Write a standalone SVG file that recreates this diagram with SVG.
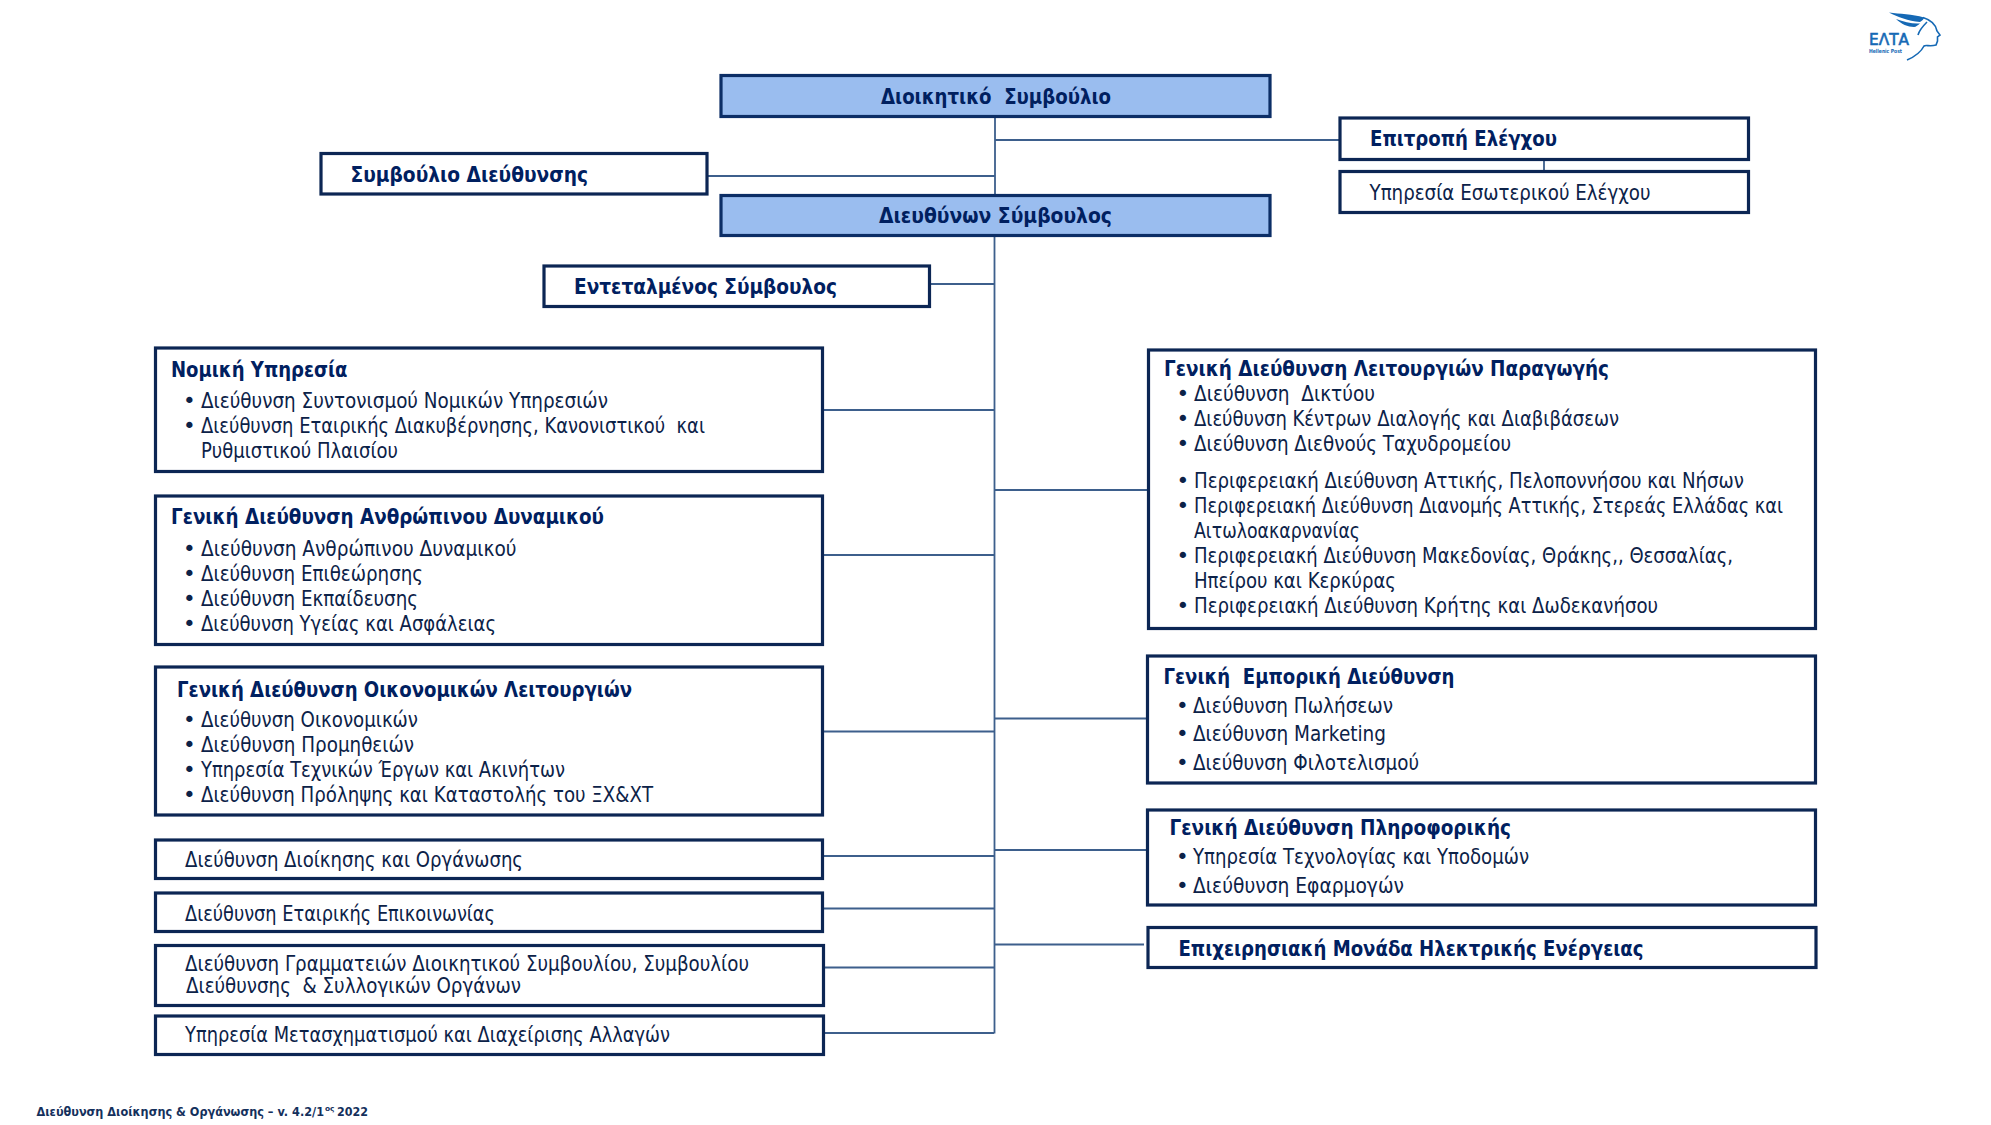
<svg xmlns="http://www.w3.org/2000/svg" width="1991" height="1125" viewBox="0 0 1991 1125">
<style>
text{font-family:"DejaVu Sans","Noto Sans",sans-serif;white-space:pre}
.b{fill:#fff;stroke:#0c2654;stroke-width:3.2}
.h{fill:#9abdef;stroke:#0c2e66;stroke-width:3.2}
.t{font-size:21.5px;font-weight:700;fill:#002060}
.i{font-size:21.5px;fill:#0c2248}
.c{fill:none;stroke:#3d5f8c;stroke-width:1.8}
.l{fill:#1569b5}
.f{font-size:10.5px;font-weight:700;fill:#14305c}
</style>
<rect width="1991" height="1125" fill="#fff"/>
<g id="connectors" class="c">
<path d="M995 117V195M995 140H1340M995 176H707M1544 160V171M994.500 236V1033.500M929 284H994.500"/>
<path d="M823 410H994M823 555H994M823 731.500H994M823 856H994M823 908.500H994M824 967.500H994M824 1033H994"/>
<path d="M994 490H1148M994 718.500H1147M994 850H1147M994 944.500H1144"/>
</g>
<g id="board"><rect class="h" x="721" y="75.500" width="549" height="41"/><text class="t" x="881" y="104" textLength="230" lengthAdjust="spacingAndGlyphs">Διοικητικό  Συμβούλιο</text></g>
<g id="ceo"><rect class="h" x="721" y="195.500" width="549" height="40"/><text class="t" x="879" y="223" textLength="233" lengthAdjust="spacingAndGlyphs">Διευθύνων Σύμβουλος</text></g>
<g id="management-board"><rect class="b" x="321" y="153.500" width="386" height="40.500"/><text class="t" x="350.500" y="182" textLength="237.500" lengthAdjust="spacingAndGlyphs">Συμβούλιο Διεύθυνσης</text></g>
<g id="deputy"><rect class="b" x="544" y="266" width="385.500" height="40.500"/><text class="t" x="574" y="294" textLength="263" lengthAdjust="spacingAndGlyphs">Εντεταλμένος Σύμβουλος</text></g>
<g id="audit-committee"><rect class="b" x="1340" y="118" width="408.500" height="41.500"/><text class="t" x="1370" y="146" textLength="187" lengthAdjust="spacingAndGlyphs">Επιτροπή Ελέγχου</text></g>
<g id="internal-audit"><rect class="b" x="1340" y="171.500" width="408.500" height="41"/><text class="i" x="1369.500" y="200" textLength="281" lengthAdjust="spacingAndGlyphs">Υπηρεσία Εσωτερικού Ελέγχου</text></g>

<g id="legal"><rect class="b" x="155.500" y="348" width="667" height="123.500"/>
<text class="t" x="171" y="377" textLength="176.500" lengthAdjust="spacingAndGlyphs">Νομική Υπηρεσία</text>
<text class="i" x="183" y="408">•</text><text class="i" x="201" y="408" textLength="407" lengthAdjust="spacingAndGlyphs">Διεύθυνση Συντονισμού Νομικών Υπηρεσιών</text>
<text class="i" x="183" y="433">•</text><text class="i" x="201" y="433" textLength="504" lengthAdjust="spacingAndGlyphs">Διεύθυνση Εταιρικής Διακυβέρνησης, Κανονιστικού  και</text>
<text class="i" x="201" y="458" textLength="197" lengthAdjust="spacingAndGlyphs">Ρυθμιστικού Πλαισίου</text></g>

<g id="hr"><rect class="b" x="155.500" y="496" width="667" height="148.500"/>
<text class="t" x="171" y="524" textLength="433" lengthAdjust="spacingAndGlyphs">Γενική Διεύθυνση Ανθρώπινου Δυναμικού</text>
<text class="i" x="183" y="556">•</text><text class="i" x="201" y="556" textLength="315.500" lengthAdjust="spacingAndGlyphs">Διεύθυνση Ανθρώπινου Δυναμικού</text>
<text class="i" x="183" y="581">•</text><text class="i" x="201" y="581" textLength="222" lengthAdjust="spacingAndGlyphs">Διεύθυνση Επιθεώρησης</text>
<text class="i" x="183" y="606">•</text><text class="i" x="201" y="606" textLength="217" lengthAdjust="spacingAndGlyphs">Διεύθυνση Εκπαίδευσης</text>
<text class="i" x="183" y="631">•</text><text class="i" x="201" y="631" textLength="295" lengthAdjust="spacingAndGlyphs">Διεύθυνση Υγείας και Ασφάλειας</text></g>

<g id="finance"><rect class="b" x="155.500" y="667" width="667" height="148"/>
<text class="t" x="177" y="696.500" textLength="455" lengthAdjust="spacingAndGlyphs">Γενική Διεύθυνση Οικονομικών Λειτουργιών</text>
<text class="i" x="183" y="727">•</text><text class="i" x="201" y="727" textLength="217" lengthAdjust="spacingAndGlyphs">Διεύθυνση Οικονομικών</text>
<text class="i" x="183" y="752">•</text><text class="i" x="201" y="752" textLength="213" lengthAdjust="spacingAndGlyphs">Διεύθυνση Προμηθειών</text>
<text class="i" x="183" y="777">•</text><text class="i" x="201" y="777" textLength="364" lengthAdjust="spacingAndGlyphs">Υπηρεσία Τεχνικών Έργων και Ακινήτων</text>
<text class="i" x="183" y="802">•</text><text class="i" x="201" y="802" textLength="452" lengthAdjust="spacingAndGlyphs">Διεύθυνση Πρόληψης και Καταστολής του ΞΧ&amp;ΧΤ</text></g>

<g id="administration"><rect class="b" x="155.500" y="840" width="667" height="38.500"/><text class="i" x="185" y="867" textLength="338" lengthAdjust="spacingAndGlyphs">Διεύθυνση Διοίκησης και Οργάνωσης</text></g>
<g id="communication"><rect class="b" x="155.500" y="893" width="667" height="38.500"/><text class="i" x="185" y="920.500" textLength="310" lengthAdjust="spacingAndGlyphs">Διεύθυνση Εταιρικής Επικοινωνίας</text></g>
<g id="secretariat"><rect class="b" x="155.500" y="945.500" width="668" height="60"/><text class="i" x="185" y="971" textLength="564" lengthAdjust="spacingAndGlyphs">Διεύθυνση Γραμματειών Διοικητικού Συμβουλίου, Συμβουλίου</text><text class="i" x="186" y="993" textLength="335" lengthAdjust="spacingAndGlyphs">Διεύθυνσης  &amp; Συλλογικών Οργάνων</text></g>
<g id="transformation"><rect class="b" x="155.500" y="1016" width="668" height="38.500"/><text class="i" x="185" y="1042" textLength="485" lengthAdjust="spacingAndGlyphs">Υπηρεσία Μετασχηματισμού και Διαχείρισης Αλλαγών</text></g>

<g id="production"><rect class="b" x="1148.500" y="350" width="667" height="278.500"/>
<text class="t" x="1164" y="376" textLength="445" lengthAdjust="spacingAndGlyphs">Γενική Διεύθυνση Λειτουργιών Παραγωγής</text>
<text class="i" x="1176.500" y="401">•</text><text class="i" x="1194" y="401" textLength="181" lengthAdjust="spacingAndGlyphs">Διεύθυνση  Δικτύου</text>
<text class="i" x="1176.500" y="426">•</text><text class="i" x="1194" y="426" textLength="425" lengthAdjust="spacingAndGlyphs">Διεύθυνση Κέντρων Διαλογής και Διαβιβάσεων</text>
<text class="i" x="1176.500" y="451">•</text><text class="i" x="1194" y="451" textLength="317" lengthAdjust="spacingAndGlyphs">Διεύθυνση Διεθνούς Ταχυδρομείου</text>
<text class="i" x="1176.500" y="488">•</text><text class="i" x="1194" y="488" textLength="550" lengthAdjust="spacingAndGlyphs">Περιφερειακή Διεύθυνση Αττικής, Πελοποννήσου και Νήσων</text>
<text class="i" x="1176.500" y="513">•</text><text class="i" x="1194" y="513" textLength="589" lengthAdjust="spacingAndGlyphs">Περιφερειακή Διεύθυνση Διανομής Αττικής, Στερεάς Ελλάδας και</text>
<text class="i" x="1194" y="538" textLength="166" lengthAdjust="spacingAndGlyphs">Αιτωλοακαρνανίας</text>
<text class="i" x="1176.500" y="563">•</text><text class="i" x="1194" y="563" textLength="539" lengthAdjust="spacingAndGlyphs">Περιφερειακή Διεύθυνση Μακεδονίας, Θράκης,, Θεσσαλίας,</text>
<text class="i" x="1194" y="588" textLength="202" lengthAdjust="spacingAndGlyphs">Ηπείρου και Κερκύρας</text>
<text class="i" x="1176.500" y="613">•</text><text class="i" x="1194" y="613" textLength="464" lengthAdjust="spacingAndGlyphs">Περιφερειακή Διεύθυνση Κρήτης και Δωδεκανήσου</text></g>

<g id="commercial"><rect class="b" x="1147.500" y="656" width="668" height="127"/>
<text class="t" x="1163.500" y="684" textLength="291" lengthAdjust="spacingAndGlyphs">Γενική  Εμπορική Διεύθυνση</text>
<text class="i" x="1176" y="713">•</text><text class="i" x="1193" y="713" textLength="200" lengthAdjust="spacingAndGlyphs">Διεύθυνση Πωλήσεων</text>
<text class="i" x="1176" y="741">•</text><text class="i" x="1193" y="741" textLength="193" lengthAdjust="spacingAndGlyphs">Διεύθυνση Marketing</text>
<text class="i" x="1176" y="770">•</text><text class="i" x="1193" y="770" textLength="226" lengthAdjust="spacingAndGlyphs">Διεύθυνση Φιλοτελισμού</text></g>

<g id="it"><rect class="b" x="1147.500" y="810" width="668" height="95"/>
<text class="t" x="1169.500" y="835" textLength="341.500" lengthAdjust="spacingAndGlyphs">Γενική Διεύθυνση Πληροφορικής</text>
<text class="i" x="1176" y="864">•</text><text class="i" x="1193" y="864" textLength="336" lengthAdjust="spacingAndGlyphs">Υπηρεσία Τεχνολογίας και Υποδομών</text>
<text class="i" x="1176" y="893">•</text><text class="i" x="1193" y="893" textLength="211" lengthAdjust="spacingAndGlyphs">Διεύθυνση Εφαρμογών</text></g>

<g id="energy"><rect class="b" x="1148" y="927.500" width="668" height="40"/><text class="t" x="1178.500" y="956" textLength="465" lengthAdjust="spacingAndGlyphs">Επιχειρησιακή Μονάδα Ηλεκτρικής Ενέργειας</text></g>

<g id="footer">
<text class="f" transform="translate(36.500 1116) scale(1 1.250)" textLength="287.500" lengthAdjust="spacingAndGlyphs">Διεύθυνση Διοίκησης &amp; Οργάνωσης – v. 4.2/1</text>
<text x="325" y="1111" font-size="7" font-weight="700" fill="#14305c" textLength="9.500" lengthAdjust="spacingAndGlyphs">ος</text>
<text class="f" transform="translate(337 1116) scale(1 1.250)" textLength="31" lengthAdjust="spacingAndGlyphs">2022</text>
</g>

<g id="logo">
<path class="l" d="M1889 12.500C1900 14 1912 14 1924 17.500C1924 19 1922 21 1920 22C1908 21 1898 17 1889 12.500Z"/>
<path class="l" d="M1896 19C1904 22 1912 24 1920 23.500C1918 25 1916 27 1914 27C1908 27 1901 24 1896 19Z"/>
<path fill="none" stroke="#1569b5" stroke-width="1.600" d="M1923 17.500C1931 20 1936 25 1937 31L1940 35L1937.500 37L1937.500 41L1936 45C1930 47 1926 44.500 1924 46C1921 52 1914 57 1907 60M1927 22C1922 27 1919 31 1918 35"/>
<text class="l" x="1869" y="44.500" font-size="16" font-weight="400" textLength="40" lengthAdjust="spacingAndGlyphs" stroke="#1569b5" stroke-width=".6">ΕΛΤΑ</text>
<text class="l" x="1869" y="52.500" font-size="5.500" font-weight="700" textLength="33" lengthAdjust="spacingAndGlyphs">Hellenic Post</text>
</g>
</svg>
